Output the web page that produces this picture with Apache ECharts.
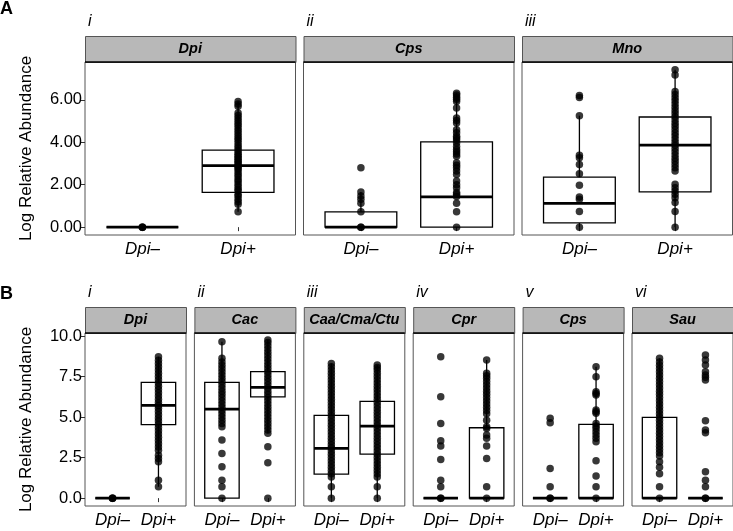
<!DOCTYPE html>
<html><head><meta charset="utf-8">
<script src="https://cdn.jsdelivr.net/npm/echarts@6/dist/echarts.min.js"></script>
<style>html,body{margin:0;padding:0;background:#fff}#c{width:733px;height:531px}</style>
</head><body><div id="c"></div>
<script>
// ---------- data ----------
const groups = ['Dpi–', 'Dpi+'];
const yTicksA = [0, 2, 4, 6];
const yTicksB = [0, 2.5, 5, 7.5, 10];
const panelsA = ['Dpi', 'Cps', 'Mno'];
const romanA = ['i', 'ii', 'iii'];
const panelsB = ['Dpi', 'Cac', 'Caa/Cma/Ctu', 'Cpr', 'Cps', 'Sau'];
const romanB = ['i', 'ii', 'iii', 'iv', 'v', 'vi'];

// box stats per group: [lower whisker, Q1, median, Q3, upper whisker]
const boxA_Dpi = [[0, 0, 0, 0, 0], [0.72, 1.64, 2.9, 3.63, 5.92]];
const boxA_Cps = [[0, 0, 0, 0.72, 1.66], [0, 0, 1.43, 4.02, 6.31]];
const boxA_Mno = [[0, 0.2, 1.12, 2.36, 5.25], [0, 1.66, 3.86, 5.19, 7.41]];
const boxB_Dpi = [[0, 0, 0, 0, 0], [0.7, 4.53, 5.72, 7.14, 8.72]];
const boxB_Cac = [[0, 0, 5.49, 7.14, 9.65], [4.0, 6.25, 6.83, 7.8, 9.75]];
const boxB_Caa = [[0, 1.48, 3.07, 5.1, 8.31], [0, 2.72, 4.44, 5.97, 8.21]];
const boxB_Cpr = [[0, 0, 0, 0, 0], [0, 0, 0, 4.34, 8.52]];
const boxB_Cps = [[0, 0, 0, 0, 0], [0, 0, 0, 4.55, 8.11]];
const boxB_Sau = [[0, 0, 0, 4.98, 8.62], [0, 0, 0, 0, 0]];

// individual observations
const ptsA_Dpi_neg = [0, 0, 0];
const ptsA_Dpi_pos = [0.72, 1.08, 1.2, 1.31, 1.45, 1.55, 1.7, 1.78, 1.9, 2.02, 2.15, 2.25, 2.37, 2.48, 2.6, 2.72, 2.8, 2.87, 2.95, 3.03, 3.1, 3.19, 3.26, 3.34, 3.42, 3.5, 3.62, 3.74, 3.85, 3.97, 4.1, 4.2, 4.32, 4.44, 4.55, 4.67, 4.8, 4.91, 5.02, 5.14, 5.26, 5.38, 5.69, 5.8, 5.92];
const ptsA_Cps_neg = [0, 0, 0.72, 1.12, 1.31, 1.47, 1.66, 2.8];
const ptsA_Cps_pos = [0, 0.72, 1.12, 1.44, 1.55, 1.63, 1.86, 2.0, 2.17, 2.48, 2.64, 2.8, 2.92, 3.03, 3.34, 3.45, 3.55, 3.66, 3.8, 3.97, 4.1, 4.2, 4.28, 4.45, 4.59, 4.91, 5.02, 5.14, 5.61, 5.92, 6.02, 6.12, 6.22, 6.31];
const ptsA_Mno_neg = [0, 0.74, 1.31, 1.42, 1.97, 2.52, 2.95, 3.27, 3.39, 5.25, 6.11, 6.2];
const ptsA_Mno_pos = [0, 0.74, 1.16, 1.39, 1.55, 1.7, 1.86, 2.02, 2.64, 2.8, 2.95, 3.1, 3.25, 3.4, 3.55, 3.7, 3.86, 4.0, 4.15, 4.3, 4.45, 4.6, 4.75, 4.9, 5.05, 5.2, 5.35, 5.5, 5.65, 5.8, 5.95, 6.1, 6.25, 6.39, 7.17, 7.41];

const ptsB_Dpi_neg = [0, 0, 0];
const ptsB_Dpi_pos = [0.7, 1.11, 2.24, 2.45, 2.65, 2.96, 3.15, 3.35, 3.55, 3.75, 3.95, 4.15, 4.35, 4.55, 4.75, 4.95, 5.15, 5.35, 5.55, 5.72, 5.9, 6.1, 6.3, 6.5, 6.7, 6.9, 7.1, 7.3, 7.5, 7.7, 7.9, 8.1, 8.3, 8.5, 8.72];
const ptsB_Cac_neg = [0, 0.7, 1.11, 1.93, 2.76, 3.58, 4.4, 4.6, 4.8, 5.0, 5.2, 5.4, 5.6, 5.8, 6.0, 6.2, 6.4, 6.6, 6.8, 7.0, 7.2, 7.4, 7.6, 7.8, 8.0, 8.2, 8.4, 8.62, 9.65];
const ptsB_Cac_pos = [0, 2.18, 3.17, 4.0, 4.2, 4.4, 4.6, 4.8, 5.0, 5.2, 5.4, 5.6, 5.8, 6.0, 6.2, 6.4, 6.6, 6.8, 7.0, 7.2, 7.4, 7.6, 7.8, 8.0, 8.2, 8.4, 8.6, 8.8, 9.0, 9.2, 9.4, 9.6, 9.75];
const ptsB_Caa_neg = [0, 0.7, 1.31, 1.5, 1.7, 1.9, 2.1, 2.3, 2.5, 2.7, 2.9, 3.1, 3.3, 3.5, 3.7, 3.9, 4.1, 4.3, 4.5, 4.7, 4.9, 5.1, 5.3, 5.5, 5.7, 5.9, 6.1, 6.3, 6.5, 6.7, 6.9, 7.1, 7.3, 7.5, 7.7, 7.9, 8.1, 8.31];
const ptsB_Caa_pos = [0, 0.7, 1.31, 1.5, 1.7, 1.9, 2.1, 2.3, 2.5, 2.7, 2.9, 3.1, 3.3, 3.5, 3.7, 3.9, 4.1, 4.3, 4.5, 4.7, 4.9, 5.1, 5.3, 5.5, 5.7, 5.9, 6.1, 6.3, 6.5, 6.7, 6.9, 7.1, 7.3, 7.5, 7.7, 7.9, 8.05, 8.21];
const ptsB_Cpr_neg = [0, 0, 0.7, 1.11, 2.39, 3.21, 3.54, 4.61, 6.25, 8.72];
const ptsB_Cpr_pos = [0, 0.7, 2.45, 3.21, 3.69, 3.9, 4.3, 4.4, 4.81, 5.2, 5.4, 5.6, 5.8, 6.0, 6.2, 6.4, 6.6, 6.8, 7.0, 7.2, 7.4, 7.55, 7.7, 8.52];
const ptsB_Cps_neg = [0, 0, 0.7, 1.83, 4.65, 4.92];
const ptsB_Cps_pos = [0, 0.7, 1.36, 2.3, 3.48, 3.7, 3.9, 4.1, 4.3, 4.45, 4.61, 5.23, 5.33, 5.43, 6.36, 6.46, 6.56, 7.49, 8.11];
const ptsB_Sau_neg = [0, 0.7, 1.5, 1.9, 2.24, 2.6, 2.8, 3.0, 3.2, 3.4, 3.6, 3.8, 4.0, 4.2, 4.4, 4.6, 4.8, 5.0, 5.2, 5.4, 5.6, 5.8, 6.0, 6.2, 6.4, 6.6, 6.8, 7.0, 7.2, 7.4, 7.6, 7.8, 8.0, 8.2, 8.4, 8.62];
const ptsB_Sau_pos = [0, 0, 0.7, 1.11, 1.62, 4.03, 4.2, 4.77, 7.28, 7.45, 7.6, 7.8, 8.21, 8.52, 8.83];

// ---------- layout ----------
const rowA = {lefts: [85, 303.5, 522], width: 210.5, top: 62, height: 173, yMin: -0.37, yMax: 7.78, ticks: yTicksA, dec: 2, stripTop: 36, labelY: 22, letter: 'A', letterY: 9};
const rowB = {lefts: [85, 194.4, 303.8, 413.2, 522.6, 632], width: 101, top: 333, height: 173, yMin: -0.485, yMax: 10.185, ticks: yTicksB, dec: 1, stripTop: 307, labelY: 293, letter: 'B', letterY: 294};

const panels = [
  {row: rowA, i: 0, name: panelsA[0], roman: romanA[0], box: boxA_Dpi, neg: ptsA_Dpi_neg, pos: ptsA_Dpi_pos},
  {row: rowA, i: 1, name: panelsA[1], roman: romanA[1], box: boxA_Cps, neg: ptsA_Cps_neg, pos: ptsA_Cps_pos},
  {row: rowA, i: 2, name: panelsA[2], roman: romanA[2], box: boxA_Mno, neg: ptsA_Mno_neg, pos: ptsA_Mno_pos},
  {row: rowB, i: 0, name: panelsB[0], roman: romanB[0], box: boxB_Dpi, neg: ptsB_Dpi_neg, pos: ptsB_Dpi_pos},
  {row: rowB, i: 1, name: panelsB[1], roman: romanB[1], box: boxB_Cac, neg: ptsB_Cac_neg, pos: ptsB_Cac_pos},
  {row: rowB, i: 2, name: panelsB[2], roman: romanB[2], box: boxB_Caa, neg: ptsB_Caa_neg, pos: ptsB_Caa_pos},
  {row: rowB, i: 3, name: panelsB[3], roman: romanB[3], box: boxB_Cpr, neg: ptsB_Cpr_neg, pos: ptsB_Cpr_pos},
  {row: rowB, i: 4, name: panelsB[4], roman: romanB[4], box: boxB_Cps, neg: ptsB_Cps_neg, pos: ptsB_Cps_pos},
  {row: rowB, i: 5, name: panelsB[5], roman: romanB[5], box: boxB_Sau, neg: ptsB_Sau_neg, pos: ptsB_Sau_pos}
];

const FONT = '"Liberation Sans", Arial, Helvetica, sans-serif';
const BORDER = '#555';

function renderBox(params, api) {
  const x = api.value(0);
  const mn = api.value(1), q1 = api.value(2), md = api.value(3), q3 = api.value(4), mx = api.value(5);
  const hw = 0.375;
  const tl = api.coord([x - hw, q3]);
  const br = api.coord([x + hw, q1]);
  const m = api.coord([x, md]);
  const top = api.coord([x, mx]);
  const bot = api.coord([x, mn]);
  return {
    type: 'group',
    children: [
      {type: 'line', shape: {x1: m[0], y1: top[1], x2: m[0], y2: tl[1]}, style: {stroke: '#000', lineWidth: 1.3}},
      {type: 'line', shape: {x1: m[0], y1: br[1], x2: m[0], y2: bot[1]}, style: {stroke: '#000', lineWidth: 1.3}},
      {type: 'rect', shape: {x: tl[0], y: tl[1], width: br[0] - tl[0], height: br[1] - tl[1]}, style: {fill: '#fff', stroke: '#000', lineWidth: 1.3}},
      {type: 'line', shape: {x1: tl[0], y1: m[1], x2: br[0], y2: m[1]}, style: {stroke: '#000', lineWidth: 2.7}}
    ]
  };
}

const grid = [], xAxis = [], yAxis = [], series = [], graphic = [];
panels.forEach((p, g) => {
  const r = p.row;
  const left = r.lefts[p.i];
  const first = p.i === 0;
  grid.push({left: left, top: r.top, width: r.width, height: r.height, show: true, borderColor: BORDER, borderWidth: 1, backgroundColor: '#fff'});
  xAxis.push({
    type: 'value', gridIndex: g, min: 0.4, max: 2.6,
    axisLine: {show: false}, splitLine: {show: false},
    axisTick: {show: true, customValues: [1, 2], length: 4, lineStyle: {color: '#333', width: 1}},
    axisLabel: {customValues: [1, 2], formatter: v => groups[Math.round(v) - 1], fontStyle: 'italic', fontSize: 17, color: '#000', fontFamily: FONT, margin: 6}
  });
  yAxis.push({
    type: 'value', gridIndex: g, min: r.yMin, max: r.yMax,
    axisLine: {show: false}, splitLine: {show: false},
    axisTick: {show: first, customValues: r.ticks, length: 4, lineStyle: {color: '#333', width: 1}},
    axisLabel: {show: first, customValues: r.ticks, formatter: v => Number(v).toFixed(r.dec), fontSize: 16.5, color: '#000', fontFamily: FONT, margin: 3},
    name: first ? 'Log Relative Abundance' : '', nameLocation: 'middle', nameGap: 50,
    nameTextStyle: {fontSize: 17, color: '#000', fontFamily: FONT}
  });
  series.push({
    type: 'custom', xAxisIndex: g, yAxisIndex: g, renderItem: renderBox, silent: true, z: 2,
    data: p.box.map((b, k) => [k + 1].concat(b))
  });
  series.push({
    type: 'scatter', xAxisIndex: g, yAxisIndex: g, silent: true, z: 3,
    symbolSize: 7.5, itemStyle: {color: 'rgba(0,0,0,0.78)', opacity: 1},
    data: p.neg.map(v => [1, v]).concat(p.pos.map(v => [2, v]))
  });
  // strip
  graphic.push({type: 'rect', left: left, top: r.stripTop, shape: {x: 0, y: 0, width: r.width, height: r.top - r.stripTop}, style: {fill: '#b8b8b8', stroke: BORDER, lineWidth: 1}, z: 10});
  graphic.push({type: 'line', shape: {x1: left, y1: r.top, x2: left + r.width, y2: r.top}, style: {stroke: '#000', lineWidth: 1.6}, z: 11});
  graphic.push({type: 'text', x: left + r.width / 2, y: (r.stripTop + r.top) / 2, z: 12,
    style: {text: p.name, font: 'italic bold 14.5px ' + FONT, fill: '#000', align: 'center', verticalAlign: 'middle'}});
  graphic.push({type: 'text', x: left + 3, y: r.labelY, z: 12,
    style: {text: p.roman, font: 'italic 16px ' + FONT, fill: '#000', align: 'left', verticalAlign: 'middle'}});
});
graphic.push({type: 'text', x: 0, y: rowA.letterY, style: {text: rowA.letter, font: 'bold 18px ' + FONT, fill: '#000', verticalAlign: 'middle'}});
graphic.push({type: 'text', x: 0, y: rowB.letterY, style: {text: rowB.letter, font: 'bold 18px ' + FONT, fill: '#000', verticalAlign: 'middle'}});

const chart = echarts.init(document.getElementById('c'), null, {renderer: 'canvas'});
chart.setOption({animation: false, backgroundColor: '#fff', grid, xAxis, yAxis, series, graphic});
</script>
</body></html>
